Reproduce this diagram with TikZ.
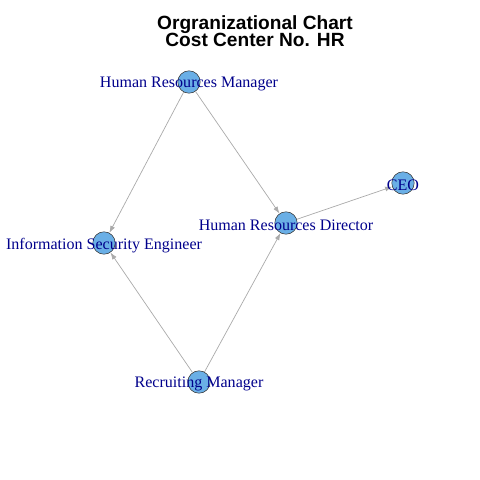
\documentclass[tikz,border=0pt]{standalone}
\usepackage{fontspec}
\setmainfont{Liberation Serif}
\newfontfamily\titlefont{Liberation Sans}
\usetikzlibrary{arrows.meta}
\definecolor{vertexblue}{RGB}{106,175,230}
\definecolor{labelblue}{RGB}{0,0,139}
\definecolor{edgegray}{RGB}{170,170,170}
\tikzset{
  vertex/.style={circle, draw=black!80, fill=vertexblue, minimum size=0.56cm, inner sep=0pt},
  vlabel/.style={text=labelblue, font=\fontsize{11.4}{12}\selectfont, inner sep=0pt, yshift=-1.5pt},
  edge/.style={draw=edgegray, line width=0.5pt, -{Latex[length=5pt,width=3.5pt]}}
}
\begin{document}
\begin{tikzpicture}[x=0.025cm,y=-0.025cm]
			%%%%% START %%%%%
			\useasboundingbox (0,0) rectangle (480,480);
			
			\node[font=\titlefont\bfseries\fontsize{13.6}{10}\selectfont, align=center] (title) at (255,31) {Orgranizational Chart\\[-1.5pt]Cost Center No. HR};
			
			\node[vertex] (hrm) at (189,82) {};
			\node[vertex] (hrd) at (286,223) {};
			\node[vertex] (ceo) at (403,183) {};
			\node[vertex] (ise) at (104,243) {};
			\node[vertex] (rm) at (199,382) {};
			
			\draw[edge] (hrm) -- (ise);
			\draw[edge] (hrm) -- (hrd);
			\draw[edge] (hrd) -- (ceo);
			\draw[edge] (rm) -- (ise);
			\draw[edge] (rm) -- (hrd);
			
			\node[vlabel] (hrmLabel) at (hrm) {Human Resources Manager};
			\node[vlabel] (hrdLabel) at (hrd) {Human Resources Director};
			\node[vlabel] (ceoLabel) at (ceo) {CEO};
			\node[vlabel] (iseLabel) at (ise) {Information Security Engineer};
			\node[vlabel] (rmLabel) at (rm) {Recruiting Manager};
			
			%%%%% END %%%%%
\end{tikzpicture}
\end{document}
